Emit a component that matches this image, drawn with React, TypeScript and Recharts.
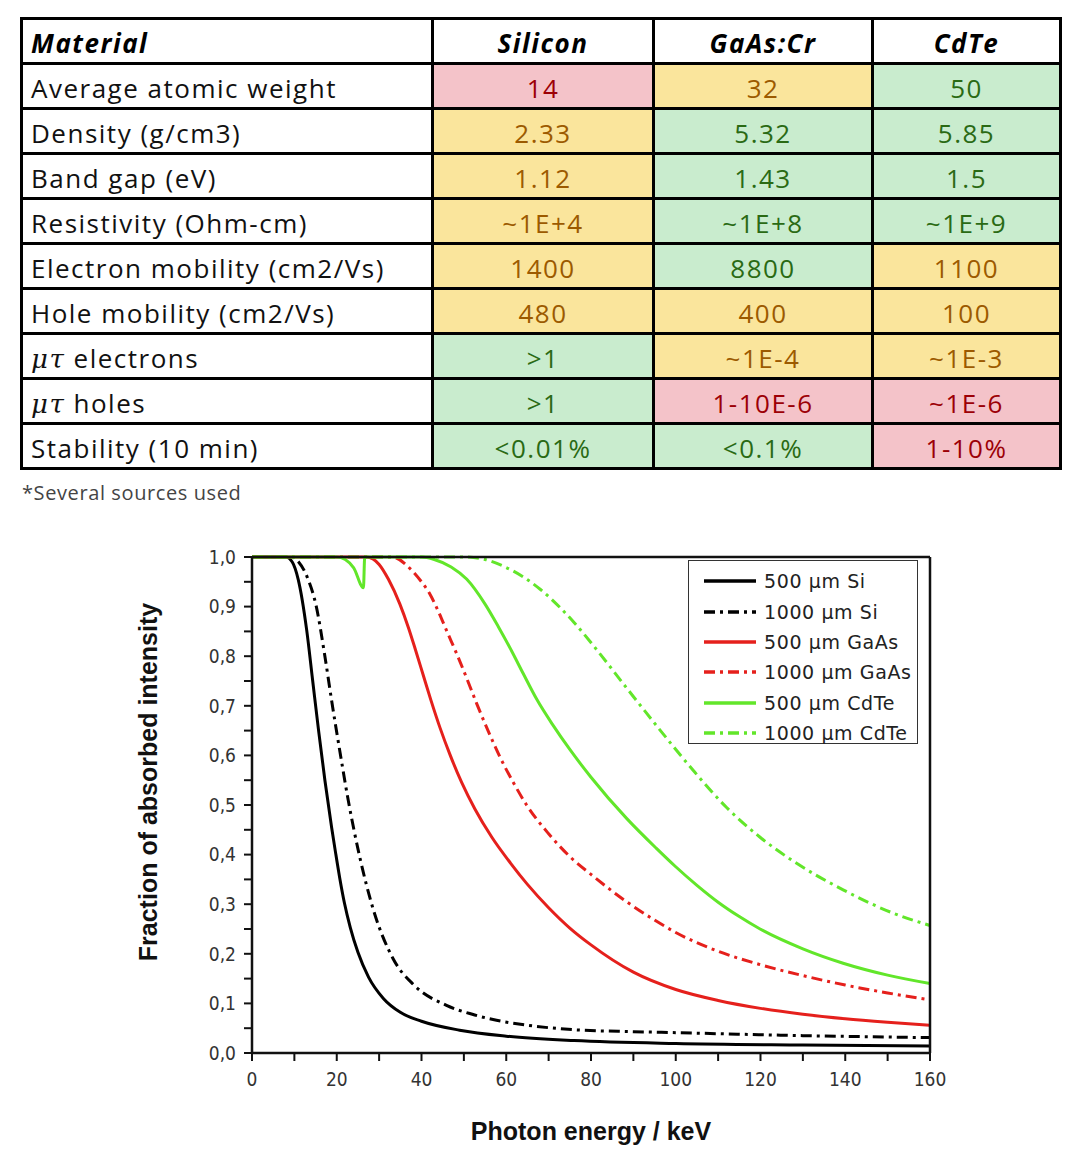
import { LineChart, Line, XAxis, YAxis, Legend } from 'recharts';

// ---- table data ----
const materials = ['Silicon', 'GaAs:Cr', 'CdTe'];
const properties = [
  'Average atomic weight',
  'Density (g/cm3)',
  'Band gap (eV)',
  'Resistivity (Ohm-cm)',
  'Electron mobility (cm2/Vs)',
  'Hole mobility (cm2/Vs)',
  'μτ electrons',
  'μτ holes',
  'Stability (10 min)',
];
const siliconValues = ['14', '2.33', '1.12', '~1E+4', '1400', '480', '>1', '>1', '<0.01%'];
const gaasValues = ['32', '5.32', '1.43', '~1E+8', '8800', '400', '~1E-4', '1-10E-6', '<0.1%'];
const cdteValues = ['50', '5.85', '1.5', '~1E+9', '1100', '100', '~1E-3', '~1E-6', '1-10%'];
const siliconRatings = ['bad', 'neutral', 'neutral', 'neutral', 'neutral', 'neutral', 'good', 'good', 'good'];
const gaasRatings = ['neutral', 'good', 'good', 'good', 'good', 'neutral', 'neutral', 'bad', 'good'];
const cdteRatings = ['good', 'good', 'good', 'good', 'neutral', 'neutral', 'neutral', 'bad', 'bad'];
const footnote = '*Several sources used';

// ---- chart data: [photon energy keV, fraction absorbed] ----
const si500: [number, number][] = [
  [0, 1], [8, 1], [9.5, 0.99], [10.9, 0.955], [12.9, 0.853], [14.3, 0.752], [15.7, 0.651],
  [17.2, 0.55], [18.8, 0.454], [19.7, 0.405], [20.7, 0.353], [21.8, 0.303], [23.2, 0.253],
  [25, 0.203], [27.5, 0.153], [31, 0.11], [35, 0.082], [40, 0.064], [49, 0.046],
  [60, 0.034], [76, 0.025], [100, 0.019], [130, 0.016], [160, 0.014],
];
const si1000: [number, number][] = [
  [0, 1], [9.5, 1], [11, 0.99], [13, 0.96], [15.1, 0.903], [17.2, 0.8], [18.8, 0.71],
  [20.8, 0.605], [22.7, 0.51], [25.3, 0.4], [28.6, 0.29], [33.3, 0.19], [38.1, 0.138],
  [45.9, 0.096], [52, 0.078], [57.7, 0.066], [65, 0.056], [75.8, 0.047], [90, 0.043],
  [100, 0.041], [130, 0.035], [160, 0.031],
];
const gaas500: [number, number][] = [
  [0, 1], [27, 1], [30, 0.985], [32.2, 0.955], [34.9, 0.905], [36.9, 0.858], [38.5, 0.815],
  [40.4, 0.762], [42.2, 0.712], [44.4, 0.655], [46.7, 0.602], [49.5, 0.545], [52.6, 0.492],
  [56.6, 0.435], [61, 0.383], [65, 0.34], [70, 0.293], [75, 0.252], [80, 0.218],
  [90, 0.163], [100, 0.128], [110, 0.106], [120, 0.09], [130, 0.078], [140, 0.069],
  [150, 0.062], [160, 0.056],
];
const gaas1000: [number, number][] = [
  [0, 1], [33, 1], [37.5, 0.975], [40, 0.95], [42, 0.925], [44, 0.89], [46, 0.85],
  [48.3, 0.805], [50.7, 0.755], [53, 0.705], [55.8, 0.648], [58.5, 0.597], [61.7, 0.545],
  [64.8, 0.5], [70, 0.442], [75, 0.396], [80, 0.36], [88.4, 0.305], [95, 0.268],
  [100, 0.243], [110, 0.205], [120, 0.178], [130, 0.156], [140, 0.137], [150, 0.121],
  [160, 0.107],
];
const cdte500: [number, number][] = [
  [0, 1], [20, 1], [22, 0.995], [24, 0.978], [26.3, 0.938], [26.6, 1], [40, 1], [43, 0.995],
  [47, 0.98], [50.7, 0.955], [55, 0.905], [58.1, 0.86], [61.3, 0.81], [64, 0.765],
  [67.2, 0.713], [71.1, 0.66], [75, 0.612], [80, 0.556], [88.4, 0.473], [95.5, 0.412],
  [99.8, 0.377], [105, 0.338], [110, 0.304], [115, 0.275], [119.9, 0.25], [130, 0.21],
  [139.5, 0.181], [150, 0.157], [160, 0.14],
];
const cdte1000: [number, number][] = [
  [0, 1], [50, 1], [55, 0.995], [59.7, 0.98], [64, 0.96], [68, 0.935], [72.7, 0.898],
  [76, 0.868], [80.5, 0.822], [88.4, 0.736], [96.3, 0.651], [104.1, 0.57], [112, 0.495],
  [119.9, 0.435], [127.7, 0.387], [139.5, 0.329], [151.3, 0.282], [160, 0.257],
];

const xTicks = [0, 10, 20, 30, 40, 50, 60, 70, 80, 90, 100, 110, 120, 130, 140, 150, 160];
const yTicks = [0, 0.05, 0.1, 0.15, 0.2, 0.25, 0.3, 0.35, 0.4, 0.45, 0.5, 0.55, 0.6, 0.65, 0.7, 0.75, 0.8, 0.85, 0.9, 0.95, 1];

const RED = '#e5201c';
const GREEN = '#62e62a';
const DASHDOT = '11 5 3 5';

const series = [
  { name: '500 µm Si', points: si500, color: '#000', dash: undefined },
  { name: '1000 µm Si', points: si1000, color: '#000', dash: DASHDOT },
  { name: '500 µm GaAs', points: gaas500, color: RED, dash: undefined },
  { name: '1000 µm GaAs', points: gaas1000, color: RED, dash: DASHDOT },
  { name: '500 µm CdTe', points: cdte500, color: GREEN, dash: undefined },
  { name: '1000 µm CdTe', points: cdte1000, color: GREEN, dash: DASHDOT },
];

const fills: Record<string, { bg: string; fg: string }> = {
  bad: { bg: '#f4c3c9', fg: '#9c0006' },
  neutral: { bg: '#fae59c', fg: '#9c5a00' },
  good: { bg: '#c9ecce', fg: '#2a6a14' },
};

const tableFont = '"Open Sans", sans-serif';
const tickFont = '"Liberation Sans Narrow", "DejaVu Sans Condensed", "Liberation Sans", sans-serif';
const cellBorder = '3px solid #000';

const PropertyLabel = ({ text }: { text: string }) => {
  if (text.startsWith('μτ')) {
    return (
      <span>
        <span style={{ fontFamily: '"DejaVu Serif", serif', fontStyle: 'italic' }}>μτ</span>
        {text.slice(2)}
      </span>
    );
  }
  return <span>{text}</span>;
};

const MaterialTable = () => {
  const columns = [
    { values: siliconValues, ratings: siliconRatings },
    { values: gaasValues, ratings: gaasRatings },
    { values: cdteValues, ratings: cdteRatings },
  ];
  const colWidths = [411, 221, 219, 188];
  return (
    <div>
      <table
        style={{
          position: 'absolute', left: 20, top: 17, width: 1042, height: 453,
          borderCollapse: 'collapse', fontFamily: tableFont, fontSize: 26, letterSpacing: 1.5,
          tableLayout: 'fixed',
        }}
      >
        <colgroup>
          {colWidths.map((w, i) => <col key={i} style={{ width: w }} />)}
        </colgroup>
        <tbody>
          <tr style={{ height: 45 }}>
            <td style={{ border: cellBorder, padding: '3px 8px 0', fontWeight: 700, fontStyle: 'italic', color: '#000' }}>
              Material
            </td>
            {materials.map((m) => (
              <td key={m} style={{ border: cellBorder, padding: '3px 0 0', textAlign: 'center', fontWeight: 700, fontStyle: 'italic', color: '#000' }}>
                {m}
              </td>
            ))}
          </tr>
          {properties.map((p, r) => (
            <tr key={p} style={{ height: 45 }}>
              <td style={{ border: cellBorder, padding: '3px 8px 0', color: '#111', whiteSpace: 'nowrap' }}>
                <PropertyLabel text={p} />
              </td>
              {columns.map((c, k) => {
                const f = fills[c.ratings[r]];
                return (
                  <td key={k} style={{ border: cellBorder, padding: '3px 0 0', textAlign: 'center', background: f.bg, color: f.fg }}>
                    {c.values[r]}
                  </td>
                );
              })}
            </tr>
          ))}
        </tbody>
      </table>
      <div
        style={{
          position: 'absolute', left: 22, top: 479, fontFamily: tableFont, fontSize: 20,
          letterSpacing: 0.6, color: '#444',
        }}
      >
        {footnote}
      </div>
    </div>
  );
};

const LegendBox = () => (
  <div
    style={{
      width: 230, height: 184, boxSizing: 'border-box', border: '1.5px solid #333',
      background: '#fff', paddingTop: 5, paddingLeft: 14,
    }}
  >
    {series.map((s) => (
      <div key={s.name} style={{ display: 'flex', alignItems: 'center', height: 30.4 }}>
        <svg width={54} height={10}>
          <line x1={1} y1={5} x2={53} y2={5} stroke={s.color} strokeWidth={3.5} strokeDasharray={s.dash} />
        </svg>
        <span
          style={{
            marginLeft: 7, fontFamily: '"DejaVu Sans", sans-serif', fontSize: 19,
            letterSpacing: 0.6, color: '#222',
          }}
        >
          {s.name}
        </span>
      </div>
    ))}
  </div>
);

const fmtY = (v: number) => (Math.round(v * 100) % 10 === 0 ? v.toFixed(1).replace('.', ',') : '');
const fmtX = (v: number) => (v % 20 === 0 ? String(v) : '');

const App = () => {
  const axisStroke = { stroke: '#111', strokeWidth: 2.5 };
  const tickStroke = { stroke: '#111', strokeWidth: 2 };
  const tickStyle = { fontFamily: tickFont, fontSize: 19, fill: '#333' };
  return (
    <div style={{ position: 'absolute', left: 0, top: 0, width: 1080, height: 1166, background: '#fff' }}>
      <MaterialTable />
      <div style={{ position: 'absolute', left: 0, top: 530 }}>
        <LineChart width={1000} height={630} margin={{ top: 27, right: 70, bottom: 0, left: 0 }}>
          <XAxis
            type="number"
            dataKey="e"
            domain={[0, 160]}
            ticks={xTicks}
            tickFormatter={fmtX}
            interval={0}
            height={107}
            tickSize={8}
            tickMargin={12}
            axisLine={axisStroke}
            tickLine={tickStroke}
            tick={tickStyle}
            label={{
              value: 'Photon energy / keV', position: 'insideBottom', offset: 20,
              style: { fontFamily: '"Liberation Sans", sans-serif', fontWeight: 700, fontSize: 25, fill: '#111' },
            }}
          />
          <XAxis
            xAxisId="top"
            orientation="top"
            type="number"
            domain={[0, 160]}
            ticks={xTicks}
            interval={0}
            mirror
            height={1}
            tick={false}
            tickSize={6}
            axisLine={axisStroke}
            tickLine={tickStroke}
          />
          <YAxis
            type="number"
            domain={[0, 1]}
            ticks={yTicks}
            tickFormatter={fmtY}
            interval={0}
            width={252}
            tickSize={8}
            tickMargin={8}
            axisLine={axisStroke}
            tickLine={tickStroke}
            tick={tickStyle}
            label={{
              content: ({ viewBox }: any) => {
                const cx = viewBox.x + 148;
                const cy = viewBox.y + viewBox.height / 2 - 23;
                return (
                  <text
                    x={cx}
                    y={cy}
                    transform={`rotate(-90, ${cx}, ${cy})`}
                    textAnchor="middle"
                    dominantBaseline="central"
                    style={{ fontFamily: '"Liberation Sans", sans-serif', fontWeight: 700, fontSize: 25, fill: '#111' }}
                  >
                    Fraction of absorbed intensity
                  </text>
                );
              },
            }}
          />
          <YAxis
            yAxisId="right"
            orientation="right"
            type="number"
            domain={[0, 1]}
            ticks={yTicks}
            interval={0}
            mirror
            width={1}
            tick={false}
            tickSize={8}
            axisLine={axisStroke}
            tickLine={tickStroke}
          />
          <Legend
            layout="horizontal"
            verticalAlign="middle"
            align="center"
            content={() => <LegendBox />}
            wrapperStyle={{ position: 'absolute', left: 688, top: 30, width: 'auto', height: 'auto' }}
          />
          {series.map((s) => (
            <Line
              key={s.name}
              name={s.name}
              data={s.points.map(([e, f]) => ({ e, f }))}
              dataKey="f"
              type="monotone"
              stroke={s.color}
              strokeWidth={3}
              strokeDasharray={s.dash}
              dot={false}
              activeDot={false}
              isAnimationActive={false}
            />
          ))}
        </LineChart>
      </div>
    </div>
  );
};

export default App;
